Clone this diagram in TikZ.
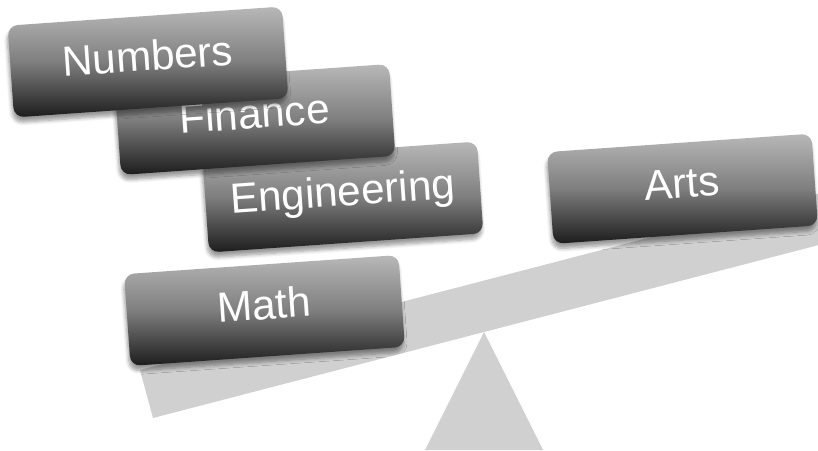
\documentclass[tikz,border=0pt]{standalone}
\usepackage{fontspec}
\setmainfont{Liberation Sans}
\usetikzlibrary{shadows.blur}
\definecolor{beamgray}{RGB}{208,208,208}
\definecolor{boxtop}{RGB}{184,184,184}
\definecolor{boxmid}{RGB}{126,126,126}
\definecolor{boxbot}{RGB}{28,28,28}

\begin{document}
\begin{tikzpicture}[
    weight/.style={rectangle, rounded corners=0.2cm, rotate=4,
        minimum width=5.5cm, minimum height=1.84cm, inner sep=0pt,
        top color=boxtop, bottom color=boxbot, middle color=boxmid,
        blur shadow={shadow xshift=-0.5pt, shadow yshift=-3pt,
            shadow opacity=40, shadow blur steps=6},
        text=white, font=\fontsize{24}{28}\selectfont,
        text height=1em, text depth=0pt}
]
    \useasboundingbox (0,0) rectangle (16.36,9);
    \clip (0,0) rectangle (16.36,9);

    % ===== 跷跷板：横梁和支点 =====
    \fill[beamgray] (2.8,1.6) -- (3.06,0.64) -- (16.8,4.21) -- (16.8,5.24) -- cycle;
    \fill[beamgray] (8.5,0) -- (9.68,2.36) -- (10.86,0) -- cycle;

    % ===== 右端 =====
    \node[weight, minimum width=5.3cm] (arts) at (13.65,5.225) {Arts};

    % ===== 左端（从下往上叠放）=====
    \node[weight] (math) at (5.29,2.79) {Math};
    \node[weight] (engineering) at (6.86,5.06) {Engineering};
    \node[weight] (finance) at (5.10,6.61) {Finance};
    \node[weight] (numbers) at (2.96,7.76) {Numbers};
\end{tikzpicture}
\end{document}
